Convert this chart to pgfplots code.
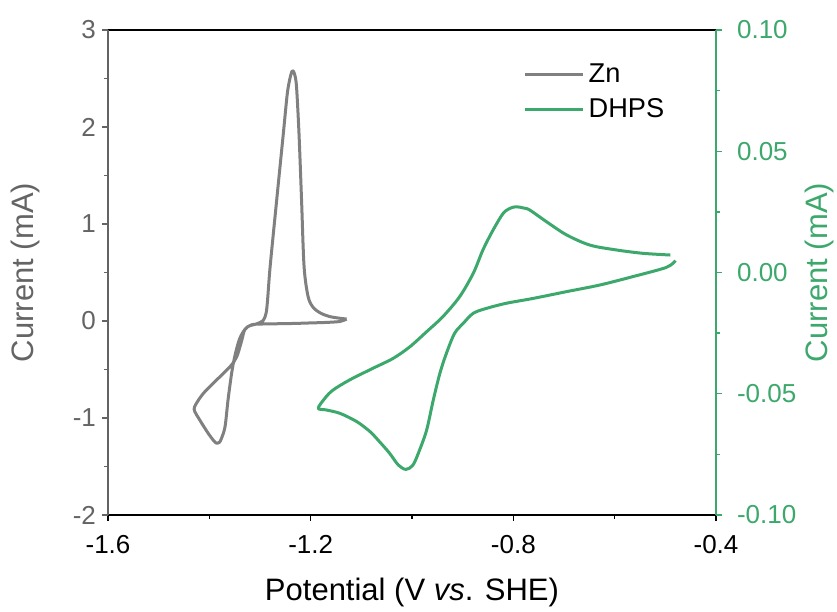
\documentclass[border=0pt]{standalone}
\usepackage{fontspec}
\setmainfont{Liberation Sans}
\usepackage{pgfplots}
\pgfplotsset{compat=1.18}
\definecolor{cvgreen}{RGB}{60,168,108}
\definecolor{cvgray}{RGB}{128,128,128}
\definecolor{axgray}{RGB}{100,100,100}
\begin{document}
\begin{tikzpicture}
\pgfplotsset{
  common/.style={
    width=304pt, height=242.5pt, scale only axis,
    xmin=-1.6, xmax=-0.4,
    tick align=outside,
    major tick length=3pt, minor tick length=2pt,
    minor tick num=1,
    /pgf/number format/assume math mode=true,
    tick label style={font=\fontsize{13}{15}\selectfont},
    label style={font=\fontsize{15.5}{18}\selectfont},
    every tick/.style={line width=0.7pt},
  }
}
\begin{axis}[common, name=ax,
  ymin=-2, ymax=3,
  axis x line*=box, axis y line*=left,
  xtick={-1.6,-1.2,-0.8,-0.4},
  xtick pos=bottom,
  ytick={-2,-1,0,1,2,3},
  x axis line style={black, line width=0.8pt, -},
  y axis line style={axgray, line width=0.8pt, -},
  ytick style={axgray},
  xtick style={black},
  yticklabel style={text=axgray, xshift=0.5pt},
  xticklabel style={yshift=-3.5pt},
  xlabel={Potential (V \textit{vs}. SHE)},
  ylabel={Current (mA)},
  ylabel style={text=axgray, at={(axis description cs:-0.136,0.5)}, anchor=center},
  xlabel style={at={(axis description cs:0.5,-0.159)}, anchor=center},
]
\addplot[cvgray, line width=1.5pt, line join=round, smooth, tension=0.5] coordinates {
(-1.129,0.02) (-1.142,-0.005) (-1.170,-0.015) (-1.200,-0.02) (-1.230,-0.025)
(-1.260,-0.028) (-1.285,-0.03) (-1.300,-0.032) (-1.317,-0.04) (-1.330,-0.09)
(-1.336,-0.20) (-1.346,-0.37) (-1.359,-0.47) (-1.386,-0.61) (-1.409,-0.73)
(-1.422,-0.82) (-1.430,-0.91) (-1.419,-1.02) (-1.402,-1.16) (-1.392,-1.23)
(-1.386,-1.26) (-1.380,-1.25) (-1.376,-1.21) (-1.369,-1.09) (-1.363,-0.81)
(-1.356,-0.54) (-1.350,-0.37) (-1.340,-0.18) (-1.326,-0.065) (-1.307,-0.03)
(-1.294,0.003) (-1.288,0.08) (-1.285,0.22) (-1.280,0.56) (-1.267,1.25)
(-1.254,1.93) (-1.246,2.35) (-1.240,2.52) (-1.236,2.58) (-1.232,2.55)
(-1.228,2.42) (-1.223,1.93) (-1.218,1.25) (-1.213,0.56) (-1.205,0.25)
(-1.195,0.14) (-1.180,0.08) (-1.162,0.045) (-1.145,0.03) (-1.129,0.02)
};
\end{axis}
\begin{axis}[common,
  ymin=-0.1, ymax=0.1,
  axis x line=none, axis y line*=right,
  ytick={-0.1,-0.05,0,0.05,0.1},
  y axis line style={cvgreen, line width=0.8pt, -},
  ytick style={cvgreen},
  yticklabel style={text=cvgreen, xshift=4pt, /pgf/number format/.cd, fixed, fixed zerofill, precision=2},
  ylabel={Current (mA)},
  ylabel style={text=cvgreen, at={(axis description cs:1.171,0.5)}, anchor=center},
  legend style={draw=none, fill=none, at={(0.683,0.872)}, anchor=west,
    font=\fontsize{13.6}{16}\selectfont, row sep=2.6pt, inner sep=0pt},
  legend cell align=left,
  legend image code/.code={\draw[#1] (0pt,0pt) -- (29pt,0pt);},
]
\addlegendimage{cvgray, line width=1.5pt}
\addlegendentry{Zn}
\addplot[cvgreen, line width=1.5pt, line join=round, smooth, tension=0.5] coordinates {
(-0.480,0.0049) (-0.498,0.0021) (-0.564,-0.0017) (-0.630,-0.0052) (-0.695,-0.0079)
(-0.761,-0.0107) (-0.814,-0.0127) (-0.853,-0.0148) (-0.879,-0.0168) (-0.899,-0.0210)
(-0.916,-0.0251) (-0.932,-0.0333) (-0.945,-0.0416) (-0.958,-0.0526) (-0.971,-0.0649)
(-0.985,-0.0732) (-0.998,-0.0794) (-1.012,-0.0812) (-1.027,-0.0794) (-1.044,-0.0746)
(-1.064,-0.0698) (-1.083,-0.0656) (-1.109,-0.0615) (-1.142,-0.0581) (-1.169,-0.0567)
(-1.185,-0.0560) (-1.172,-0.0519) (-1.156,-0.0485) (-1.123,-0.0443) (-1.077,-0.0395)
(-1.037,-0.0354) (-1.004,-0.0306) (-0.971,-0.0244) (-0.939,-0.0182) (-0.906,-0.0100)
(-0.879,-0.0003) (-0.860,0.0093) (-0.840,0.0175) (-0.820,0.0244) (-0.806,0.0265)
(-0.794,0.0271) (-0.780,0.0266) (-0.768,0.0258) (-0.735,0.0210) (-0.695,0.0155)
(-0.649,0.0113) (-0.597,0.0093) (-0.544,0.0079) (-0.490,0.0072)
};
\addlegendentry{DHPS}
\end{axis}
\pgfresetboundingbox
\path[use as bounding box] ([xshift=-54pt,yshift=-48.5pt]ax.south west) rectangle ([xshift=60.5pt,yshift=15pt]ax.north east);
\end{tikzpicture}
\end{document}
